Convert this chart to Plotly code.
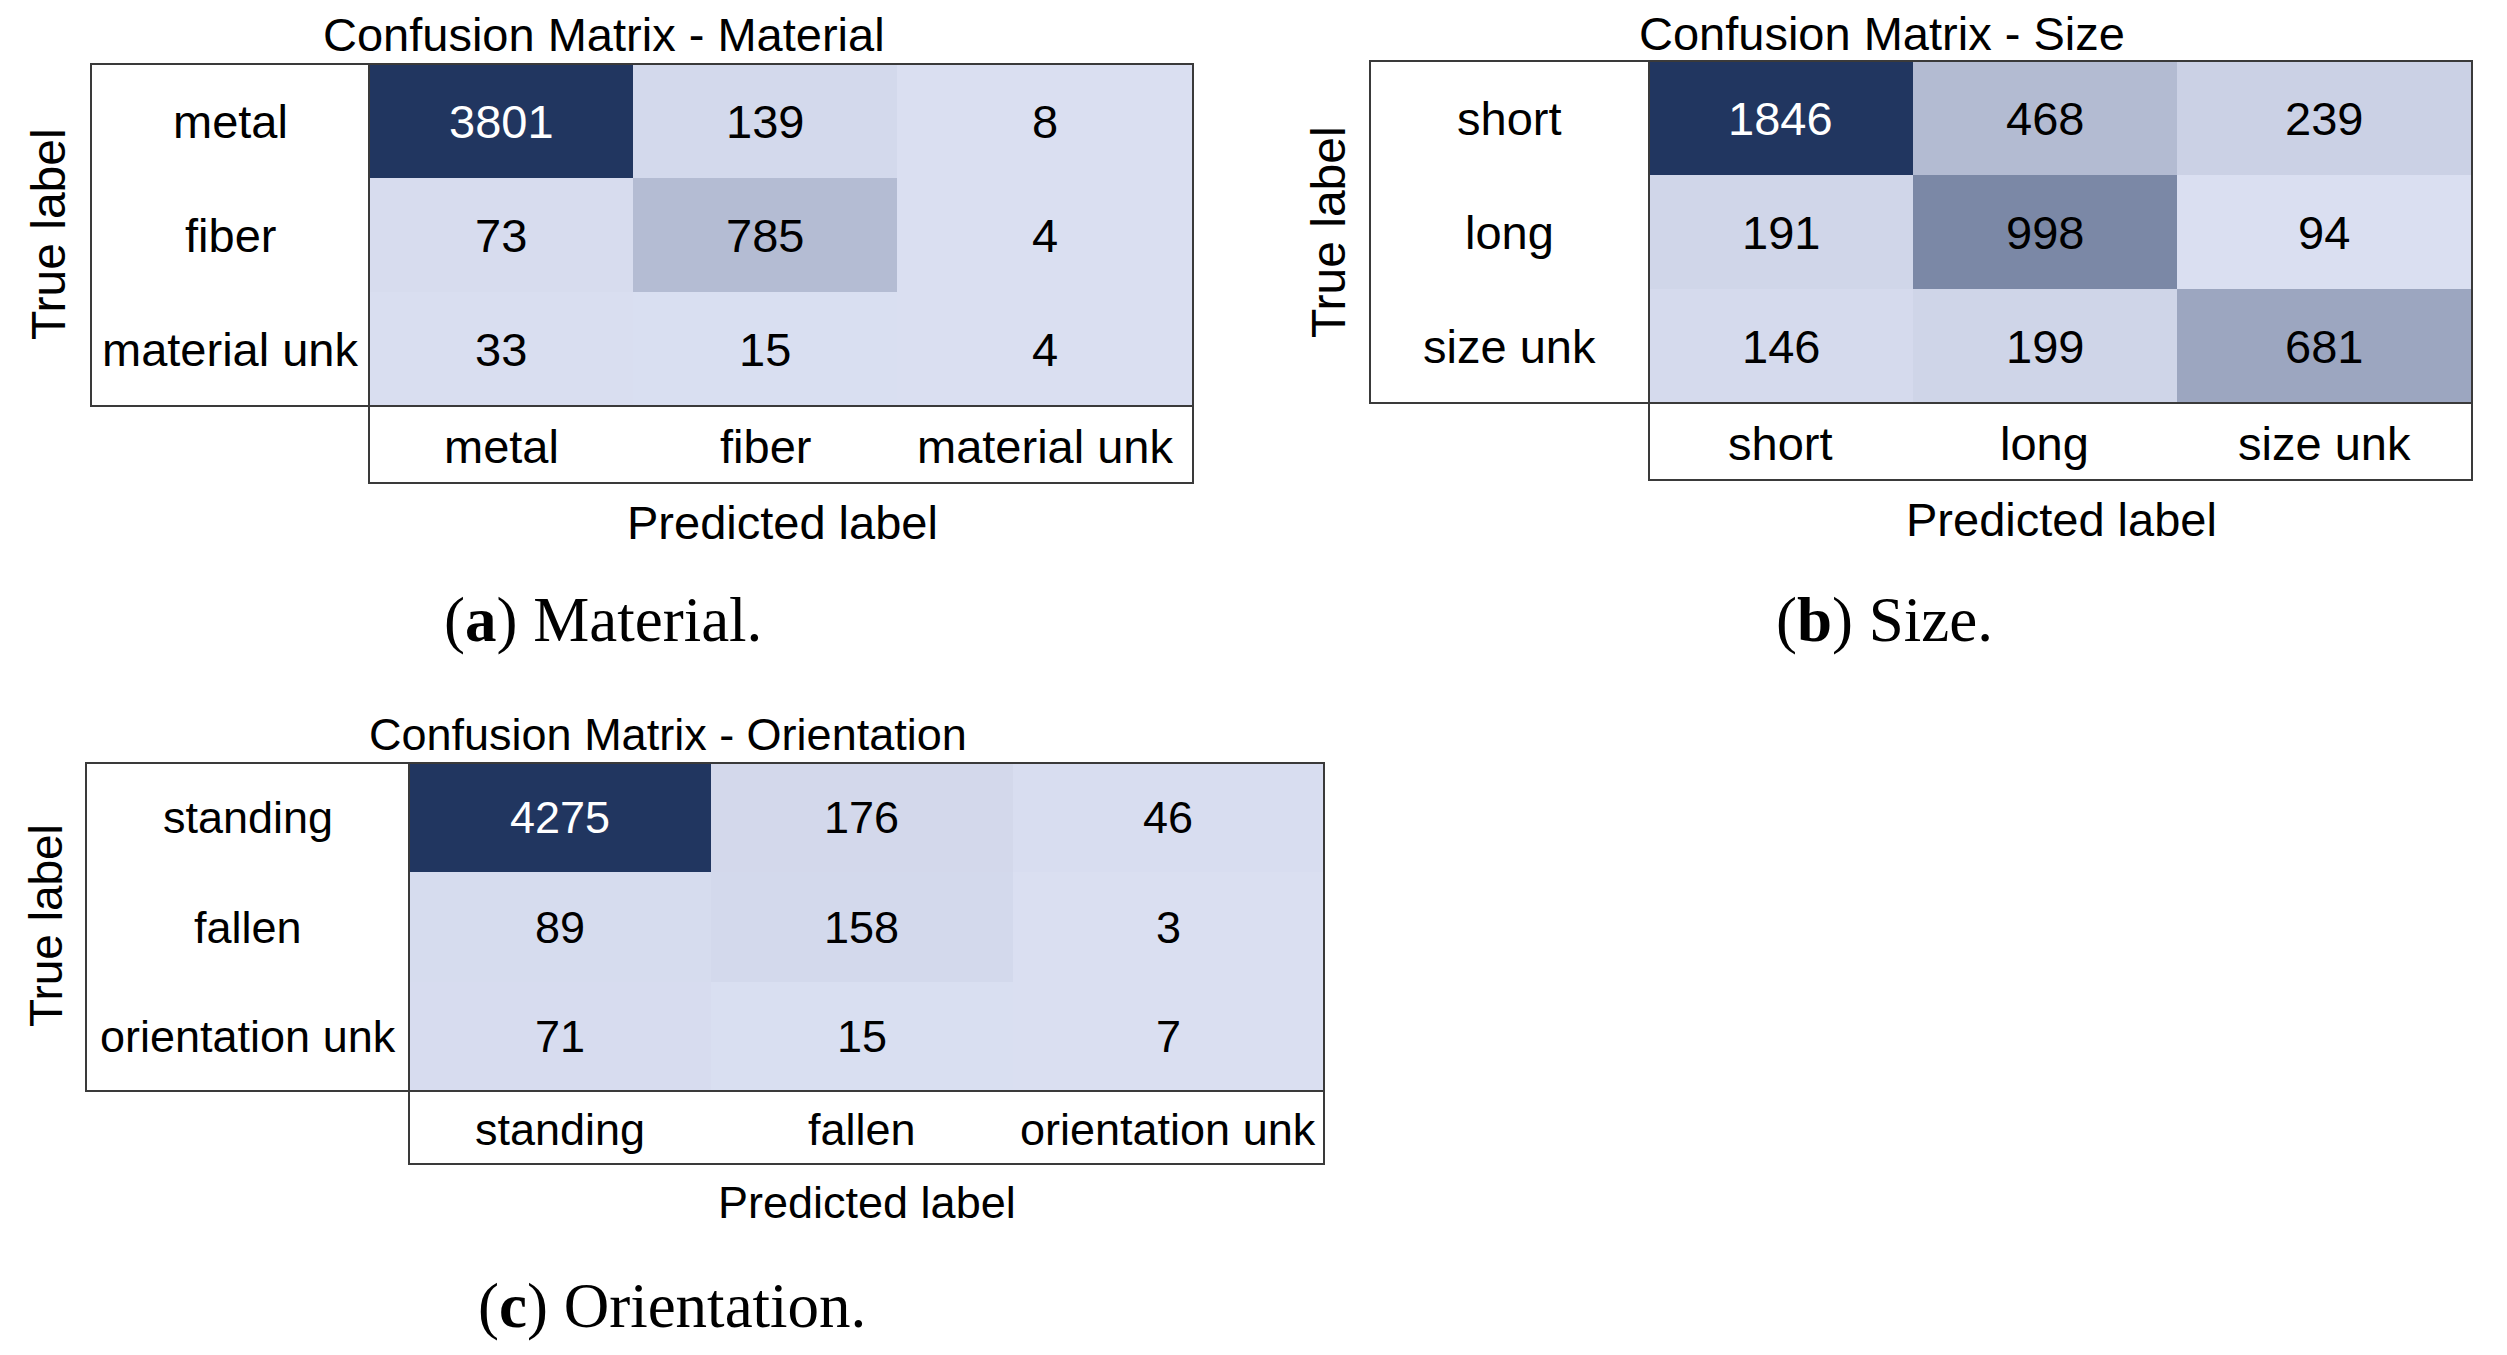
import numpy as np
import plotly.graph_objects as go

# ---------------- data ----------------
material_labels = ["metal", "fiber", "material unk"]
material_cm = [[3801, 139, 8],
               [73, 785, 4],
               [33, 15, 4]]

size_labels = ["short", "long", "size unk"]
size_cm = [[1846, 468, 239],
           [191, 998, 94],
           [146, 199, 681]]

orient_labels = ["standing", "fallen", "orientation unk"]
orient_cm = [[4275, 176, 46],
             [89, 158, 3],
             [71, 15, 7]]

titles = ["Confusion Matrix - Material", "Confusion Matrix - Size", "Confusion Matrix - Orientation"]
captions = ["(<b>a</b>) Material.", "(<b>b</b>) Size.", "(<b>c</b>) Orientation."]

# ---------------- layout geometry (pixels of the page) ----------------
W, H = 2507, 1355
OFF = 8  # default page margin around the plot div


def px(x):
    return (x - OFF) / W


def py(y):
    return 1 - (y - OFF) / H


panels = [
    dict(labels=material_labels, cm=material_cm, title=titles[0], caption=captions[0],
         box_left=91, hm_left=369, hm_right=1193, top=64, hm_bottom=406, col_bottom=483,
         weights=[1, 1, 1.12], title_xy=(604, 35), pred_xy=(782, 522), true_xy=(49, 234),
         cap_xy=(603, 620), fs=47),
    dict(labels=size_labels, cm=size_cm, title=titles[1], caption=captions[1],
         box_left=1370, hm_left=1649, hm_right=2472, top=61, hm_bottom=403, col_bottom=480,
         weights=[1, 1, 1.12], title_xy=(1882, 34), pred_xy=(2061, 519), true_xy=(1329, 232),
         cap_xy=(1884, 620), fs=47),
    dict(labels=orient_labels, cm=orient_cm, title=titles[2], caption=captions[2],
         box_left=86, hm_left=409, hm_right=1324, top=763, hm_bottom=1091, col_bottom=1164,
         weights=[1, 1, 1.03], title_xy=(668, 734), pred_xy=(867, 1202), true_xy=(46, 926),
         cap_xy=(672, 1306), fs=45),
]

LIGHT = "rgb(218,223,241)"
DARK = "rgb(33,54,96)"
FONT = "Liberation Sans, Arial, sans-serif"
SERIF = "Liberation Serif, Times New Roman, serif"
LINE = "#3a3a3a"

fig = go.Figure()
layout = dict(width=W, height=H, margin=dict(l=0, r=0, t=0, b=0),
              paper_bgcolor="white", plot_bgcolor="white", showlegend=False)
shapes = []
annotations = []

for i, p in enumerate(panels, start=1):
    xa = "x" if i == 1 else f"x{i}"
    ya = "y" if i == 1 else f"y{i}"
    labels = p["labels"]
    FS = p["fs"]
    z = np.array(p["cm"], dtype=float)
    edges = np.concatenate([[0], np.cumsum(p["weights"])])
    centers = (edges[:-1] + edges[1:]) / 2

    fig.add_trace(go.Heatmap(
        z=z, x=edges, y=labels, xaxis=xa, yaxis=ya,
        colorscale=[[0, LIGHT], [1, DARK]], showscale=False,
        hoverinfo="skip",
    ))

    # cell value texts
    zn = (z - z.min()) / (z.max() - z.min())
    for r, lab in enumerate(labels):
        for c in range(len(labels)):
            annotations.append(dict(text=str(int(z[r, c])), xref=xa, yref=ya,
                                    x=centers[c], y=lab, xanchor="center", yanchor="middle",
                                    showarrow=False,
                                    font=dict(family=FONT, size=FS,
                                              color="white" if zn[r, c] > 0.6 else "black")))

    key_x = "xaxis" if i == 1 else f"xaxis{i}"
    key_y = "yaxis" if i == 1 else f"yaxis{i}"
    layout[key_x] = dict(domain=[px(p["hm_left"]), px(p["hm_right"])], range=[edges[0], edges[-1]],
                         anchor=ya, showgrid=False, zeroline=False, showticklabels=False,
                         ticks="", showline=False, fixedrange=True)
    layout[key_y] = dict(domain=[py(p["hm_bottom"]), py(p["top"])], range=[2.5, -0.5],
                         type="category", categoryorder="array", categoryarray=labels,
                         anchor=xa, showgrid=False, zeroline=False, showticklabels=False,
                         ticks="", showline=False, fixedrange=True)

    # boxes
    shapes.append(dict(type="rect", xref="paper", yref="paper",
                       x0=px(p["box_left"]), x1=px(p["hm_right"]),
                       y0=py(p["hm_bottom"]), y1=py(p["top"]),
                       line=dict(color=LINE, width=2), fillcolor="rgba(0,0,0,0)", layer="above"))
    shapes.append(dict(type="line", xref="paper", yref="paper",
                       x0=px(p["hm_left"]), x1=px(p["hm_left"]),
                       y0=py(p["hm_bottom"]), y1=py(p["top"]),
                       line=dict(color=LINE, width=2), layer="above"))
    shapes.append(dict(type="rect", xref="paper", yref="paper",
                       x0=px(p["hm_left"]), x1=px(p["hm_right"]),
                       y0=py(p["col_bottom"]), y1=py(p["hm_bottom"]),
                       line=dict(color=LINE, width=2), fillcolor="rgba(0,0,0,0)", layer="above"))

    # row labels (true)
    row_cx = (p["box_left"] + p["hm_left"]) / 2
    for lab in labels:
        annotations.append(dict(text=lab, xref="paper", yref=ya, x=px(row_cx), y=lab,
                                xanchor="center", yanchor="middle", showarrow=False,
                                font=dict(family=FONT, size=FS, color="black")))
    # column labels (predicted)
    col_cy = (p["hm_bottom"] + p["col_bottom"]) / 2 + 2
    for c, lab in enumerate(labels):
        annotations.append(dict(text=lab, xref=xa, yref="paper", x=centers[c], y=py(col_cy),
                                xanchor="center", yanchor="middle", showarrow=False,
                                font=dict(family=FONT, size=FS, color="black")))

    # titles
    annotations.append(dict(text=p["title"], xref="paper", yref="paper",
                            x=px(p["title_xy"][0]), y=py(p["title_xy"][1]),
                            xanchor="center", yanchor="middle", showarrow=False, borderpad=0,
                            font=dict(family=FONT, size=FS, color="black")))
    annotations.append(dict(text="Predicted label", xref="paper", yref="paper",
                            x=px(p["pred_xy"][0]), y=py(p["pred_xy"][1]),
                            xanchor="center", yanchor="middle", showarrow=False,
                            font=dict(family=FONT, size=FS, color="black")))
    annotations.append(dict(text="True label", xref="paper", yref="paper",
                            x=px(p["true_xy"][0]), y=py(p["true_xy"][1]), textangle=-90,
                            xanchor="center", yanchor="middle", showarrow=False,
                            font=dict(family=FONT, size=FS + 1, color="black")))
    annotations.append(dict(text=p["caption"], xref="paper", yref="paper",
                            x=px(p["cap_xy"][0]), y=py(p["cap_xy"][1]),
                            xanchor="center", yanchor="middle", showarrow=False,
                            font=dict(family=SERIF, size=63, color="black")))

layout["shapes"] = shapes
layout["annotations"] = annotations
fig.update_layout(**layout)
fig.write_html("out.html")
